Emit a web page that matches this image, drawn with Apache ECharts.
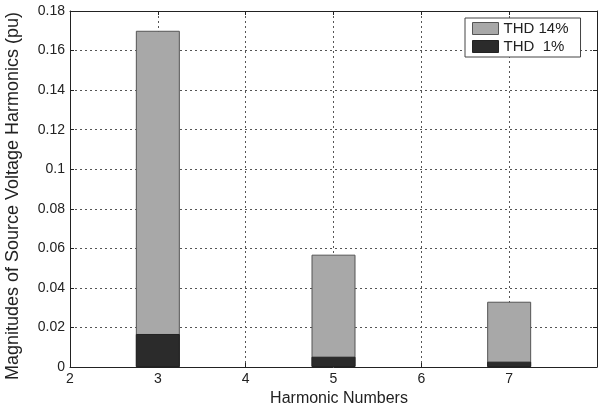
<!DOCTYPE html>
<html>
<head>
<meta charset="utf-8">
<script src="https://cdn.jsdelivr.net/npm/echarts@6/dist/echarts.min.js"></script>
<style>
  html, body { margin: 0; padding: 0; background: #fff; }
  #chart { width: 598px; height: 411px; }
</style>
</head>
<body>
<div id="chart"></div>
<script>
// Harmonic orders and source voltage harmonic magnitudes (pu)
var harmonics = [3, 5, 7];
var thd14 = [0.170, 0.0568, 0.033];
var thd1 = [0.0167, 0.0052, 0.0027];
var seriesNames = ['THD 14%', 'THD  1%'];
var xTicks = [2, 3, 4, 5, 6, 7, 8];
var yTicks = [0, 0.02, 0.04, 0.06, 0.08, 0.1, 0.12, 0.14, 0.16, 0.18];

function pairs(xs, ys) {
  return xs.map(function (x, i) { return [x, ys[i]]; });
}

var font = 'Liberation Sans, Arial, sans-serif';
var gridLine = { show: true, lineStyle: { color: '#555', type: [2, 3], width: 1 } };
var axisLine = { show: true, onZero: false, lineStyle: { color: '#222', width: 1 } };
var ticks = { show: true, inside: true, length: 4, lineStyle: { color: '#222' } };

var chart = echarts.init(document.getElementById('chart'), null, { renderer: 'canvas' });
chart.setOption({
  animation: false,
  backgroundColor: '#fff',
  grid: { left: 70, right: 1, top: 11, bottom: 44, outerBoundsMode: 'none', containLabel: false },
  legend: {
    orient: 'vertical',
    left: 465, top: 18,
    width: 117,
    padding: [3, 12, 3, 7],
    itemWidth: 26, itemHeight: 12, itemGap: 3,
    icon: 'rect',
    borderColor: '#444', borderWidth: 1,
    backgroundColor: '#fff',
    textStyle: { fontFamily: font, fontSize: 15, color: '#222' },
    data: [
      { name: seriesNames[0], itemStyle: { color: '#a8a8a8', borderColor: '#555', borderWidth: 1 } },
      { name: seriesNames[1], itemStyle: { color: '#2b2b2b', borderColor: '#222', borderWidth: 1 } }
    ]
  },
  xAxis: [{
    type: 'value', min: xTicks[0], max: xTicks[xTicks.length - 1], interval: 1,
    position: 'bottom',
    name: 'Harmonic Numbers', nameLocation: 'middle', nameGap: 21,
    nameTextStyle: { fontFamily: font, fontSize: 16, color: '#222', padding: [0, 0, 0, 11] },
    axisLine: axisLine, axisTick: ticks,
    axisLabel: { fontFamily: font, fontSize: 14, color: '#222', margin: 5, showMaxLabel: false },
    splitLine: gridLine
  }, {
    type: 'value', min: xTicks[0], max: xTicks[xTicks.length - 1], interval: 1,
    position: 'top',
    axisLine: axisLine, axisTick: ticks,
    axisLabel: { show: false }, splitLine: { show: false }
  }],
  yAxis: [{
    type: 'value', min: yTicks[0], max: yTicks[yTicks.length - 1], interval: 0.02,
    position: 'left',
    name: 'Magnitudes of Source Voltage Harmonics (pu)', nameLocation: 'middle', nameGap: 48,
    nameTextStyle: { fontFamily: font, fontSize: 18, color: '#222', padding: [0, 14, 0, 0] },
    axisLine: axisLine, axisTick: ticks,
    axisLabel: {
      fontFamily: font, fontSize: 14, color: '#222', margin: 5,
      formatter: function (v) { return String(parseFloat(v.toFixed(2))); }
    },
    splitLine: gridLine
  }, {
    type: 'value', min: yTicks[0], max: yTicks[yTicks.length - 1], interval: 0.02,
    position: 'right',
    axisLine: axisLine, axisTick: ticks,
    axisLabel: { show: false }, splitLine: { show: false }
  }],
  series: [{
    name: seriesNames[0], type: 'bar',
    xAxisIndex: 0, yAxisIndex: 0,
    barWidth: 44, barGap: '-100%',
    itemStyle: { color: '#a8a8a8', borderColor: '#555', borderWidth: 1 },
    data: pairs(harmonics, thd14)
  }, {
    name: seriesNames[1], type: 'bar',
    xAxisIndex: 0, yAxisIndex: 0,
    barWidth: 44, barGap: '-100%',
    itemStyle: { color: '#2b2b2b', borderColor: '#222', borderWidth: 1 },
    data: pairs(harmonics, thd1)
  }]
});
</script>
</body>
</html>
